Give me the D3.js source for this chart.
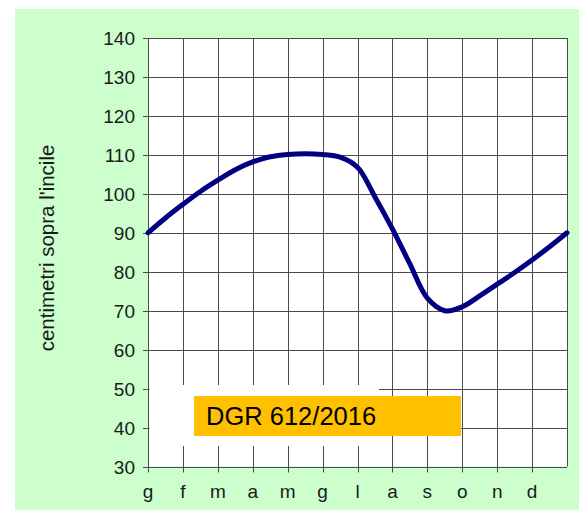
<!DOCTYPE html>
<html lang="it">
<head>
  <meta charset="UTF-8">
  <title>Livello lago - DGR 612/2016</title>
  <script src="https://d3js.org/d3.v7.min.js"></script>
  <style>
    html, body { margin: 0; padding: 0; background: #fff; }
    text { font-family: "Liberation Sans", Arial, sans-serif; fill: #1a1a1a; }
    .tick-label { font-size: 19px; }
    .axis-title { font-size: 20.5px; }
    .grid line { stroke: #4a4a4a; stroke-width: 1; }
  </style>
</head>
<body>
  <svg width="579" height="510"></svg>
  <script>
    // month labels (13th position closes the year, no label)
    const months = ["g", "f", "m", "a", "m", "g", "l", "a", "s", "o", "n", "d", ""];
    const yTicks = [30, 40, 50, 60, 70, 80, 90, 100, 110, 120, 130, 140];

    // curve read at half-month steps (position in months, cm over the sill)
    const pos = [0, 0.5, 1, 1.5, 2, 2.5, 3, 3.5, 4, 4.5, 5, 5.5, 6, 6.5, 7, 7.5, 8, 8.5, 9, 9.5, 10, 10.5, 11, 11.5, 12];
    const level = [90, 93.8, 97.3, 100.6, 103.5, 106.2, 108.2, 109.5, 110.1, 110.3, 110.1, 109.4, 106.8, 99.2, 91, 82, 73.2, 70, 71, 73.8, 76.8, 79.8, 83, 86.4, 90];

    const label = "DGR 612/2016";

    const svg = d3.select("svg");

    // green frame
    svg.append("rect")
       .attr("x", 15).attr("y", 9)
       .attr("width", 564).attr("height", 501)
       .attr("fill", "#ccffcc");

    const plotL = 148, plotR = 567, plotT = 38, plotB = 466.5;

    const x = d3.scaleLinear().domain([0, 12]).range([plotL, plotR]);
    const y = d3.scaleLinear().domain([30, 140]).range([plotB, plotT]);

    // plot area
    svg.append("rect")
       .attr("x", plotL).attr("y", plotT)
       .attr("width", plotR - plotL).attr("height", plotB - plotT)
       .attr("fill", "#fff");

    // grid
    const grid = svg.append("g").attr("class", "grid");
    grid.selectAll(".h")
        .data(yTicks)
        .enter().append("line")
        .attr("x1", plotL - 5).attr("x2", plotR)
        .attr("y1", d => Math.round(y(d)) + 0.5)
        .attr("y2", d => Math.round(y(d)) + 0.5);
    grid.selectAll(".v")
        .data(d3.range(13))
        .enter().append("line")
        .attr("x1", d => Math.round(x(d)) + 0.5)
        .attr("x2", d => Math.round(x(d)) + 0.5)
        .attr("y1", plotT)
        .attr("y2", d => d < 12 ? plotB + 6 : plotB);

    // white patch behind the label
    svg.append("rect")
       .attr("x", plotL + 1.5).attr("y", 385)
       .attr("width", 379 - plotL - 1.5).attr("height", 61)
       .attr("fill", "#fff");

    // y tick labels
    svg.selectAll(".ylab")
       .data(yTicks)
       .enter().append("text")
       .attr("class", "tick-label")
       .attr("x", 135)
       .attr("y", d => y(d) + 7)
       .attr("text-anchor", "end")
       .text(d => d);

    // x tick labels
    svg.selectAll(".xlab")
       .data(months)
       .enter().append("text")
       .attr("class", "tick-label")
       .attr("x", (d, i) => x(i))
       .attr("y", 498)
       .attr("text-anchor", "middle")
       .text(d => d);

    // y axis title
    svg.append("text")
       .attr("class", "axis-title")
       .attr("transform", "translate(54, 248) rotate(-90)")
       .attr("text-anchor", "middle")
       .text("centimetri sopra l'incile");

    // the curve
    const line = d3.line()
                   .x((d, i) => x(pos[i]))
                   .y(d => y(d))
                   .curve(d3.curveCatmullRom.alpha(0.5));
    svg.append("path")
       .datum(level)
       .attr("d", line)
       .attr("fill", "none")
       .attr("stroke", "#000080")
       .attr("stroke-width", 5)
       .attr("stroke-linecap", "round");

    // label box
    svg.append("rect")
       .attr("x", 194).attr("y", 396)
       .attr("width", 267).attr("height", 40)
       .attr("fill", "#ffc000");
    svg.append("text")
       .attr("x", 206).attr("y", 425)
       .style("font-size", "25.5px")
       .style("fill", "#000")
       .text(label);
  </script>
</body>
</html>
